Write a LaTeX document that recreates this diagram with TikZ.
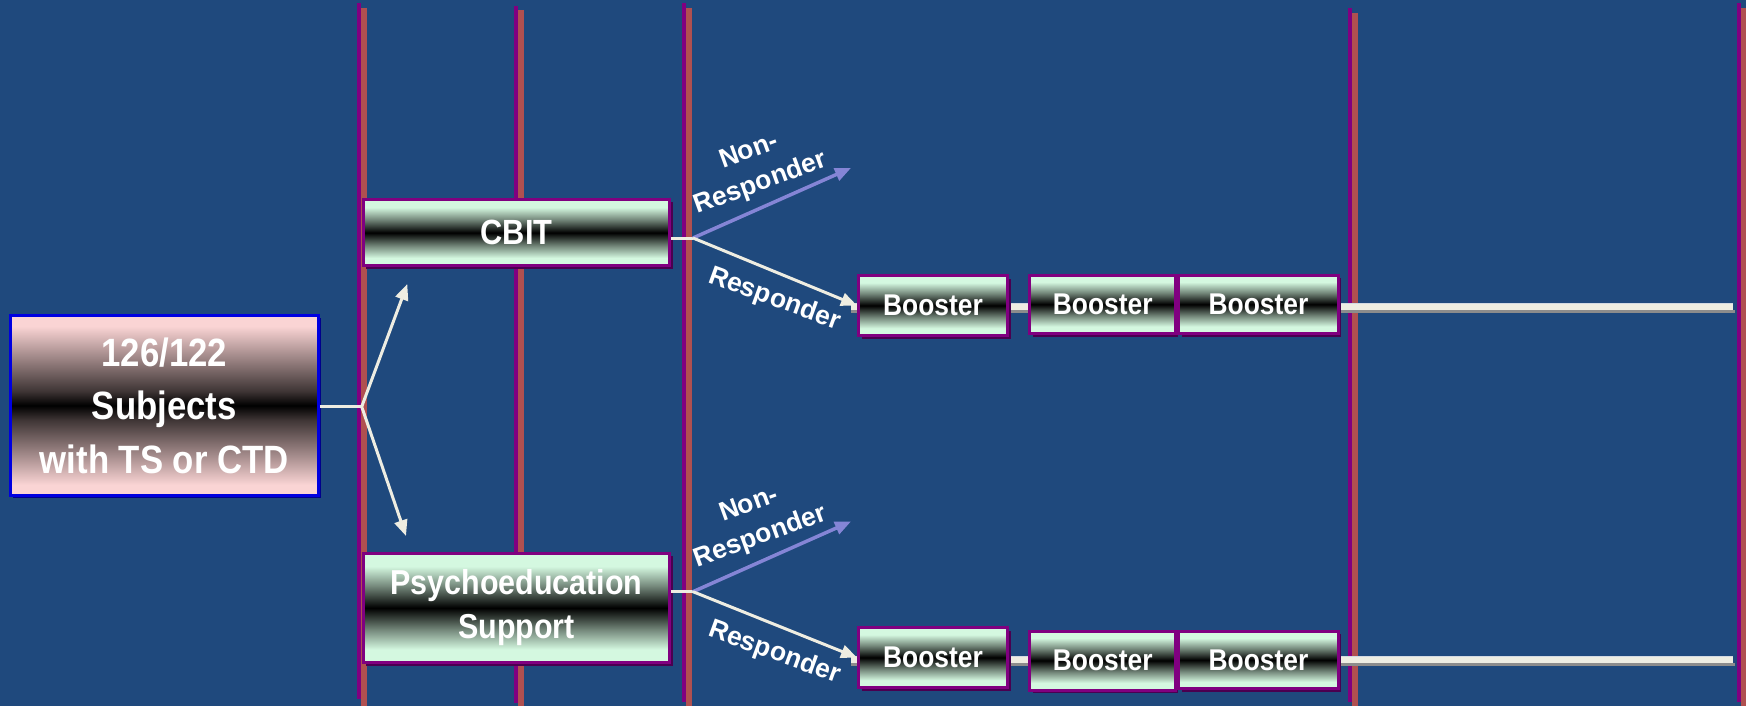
\documentclass[tikz,border=0pt]{standalone}
\usepackage{fontspec}
\setmainfont{Liberation Sans}
\newfontfamily\condf{Liberation Sans}[FakeStretch=0.88]
\usetikzlibrary{arrows.meta,shadows}
\definecolor{bgblue}{HTML}{1F497D}
\definecolor{vpurple}{HTML}{800080}
\definecolor{vsalmon}{HTML}{B05050}
\definecolor{mint}{HTML}{D4F8E0}
\colorlet{mintA}{mint!55!black}
\colorlet{mintB}{mint!22!black}
\definecolor{pinkc}{HTML}{FAD4D4}
\colorlet{pinkA}{pinkc!58!black}
\colorlet{pinkB}{pinkc!25!black}
\definecolor{cream}{HTML}{EEEDE2}
\definecolor{creamedge}{HTML}{D3D9E2}
\definecolor{lav}{HTML}{8585D6}
\definecolor{boxshadow}{HTML}{4A0050}
\definecolor{boxhalo}{HTML}{B088C8}
\definecolor{sborder}{HTML}{0000E0}
\definecolor{sshadow}{HTML}{00008C}
\definecolor{shalo}{HTML}{5A6EE0}
\definecolor{lineshadow}{HTML}{8C8C8C}
\pgfdeclareverticalshading{mintbar}{100bp}{color(0bp)=(mint); color(25bp)=(mint); color(31bp)=(mint); color(40bp)=(mintA); color(46bp)=(mintB); color(50bp)=(black); color(54bp)=(mintB); color(60bp)=(mintA); color(69bp)=(mint); color(75bp)=(mint); color(100bp)=(mint)}
\pgfdeclareverticalshading{pinkbar}{100bp}{color(0bp)=(pinkc); color(25bp)=(pinkc); color(28bp)=(pinkc); color(38bp)=(pinkA); color(46bp)=(pinkB); color(50bp)=(black); color(54bp)=(pinkB); color(62bp)=(pinkA); color(72bp)=(pinkc); color(75bp)=(pinkc); color(100bp)=(pinkc)}
\tikzset{
  tbox/.style={draw=vpurple, line width=3pt, shading=mintbar, inner sep=0pt, text=white,
    general shadow={shadow xshift=-1.5pt, shadow yshift=1.5pt, fill=boxhalo, opacity=1},
    general shadow={shadow xshift=3pt, shadow yshift=-3pt, fill=boxshadow, opacity=1}},
  sbox/.style={draw=sborder, line width=3pt, shading=pinkbar, inner sep=0pt, text=white, align=center,
    general shadow={shadow xshift=-1.5pt, shadow yshift=1.5pt, fill=shalo, opacity=1},
    general shadow={shadow xshift=2.5pt, shadow yshift=-2.5pt, fill=sshadow, opacity=1}},
  boostbox/.style={tbox, font=\condf\bfseries\fontsize{30}{34}\selectfont},
  conn/.style={draw=cream, line width=3pt},
  arr/.style={-{Triangle[length=16pt,width=13pt]}},
  lavarr/.style={draw=lav, line width=3.5pt, -{Triangle[length=16pt,width=13pt]}},
  lbl/.style={text=white, inner sep=0pt, align=center, font=\bfseries\fontsize{26.5}{34}\selectfont},
  pline/.style={draw=vpurple, line width=4pt},
  sline/.style={draw=vsalmon, line width=5.7pt},
  hmain/.style={draw=cream, line width=6.5pt},
  hshadow/.style={draw=lineshadow, line width=3.5pt},
  hedge/.style={draw=creamedge, line width=1.2pt}
}
\begin{document}
\begin{tikzpicture}[x=1pt,y=-1pt]
\useasboundingbox (0,0) rectangle (1746,706);
\fill[bgblue] (0,0) rectangle (1746,706);
% vertical lines
\foreach \px/\sx/\pt/\st/\pb in {359.3/364.2/3/8/699, 515.8/520.8/6/10/703, 684.3/689.2/3/8/702, 1350.3/1355.2/8/13/702, 1739/1743.7/3/8/702}{
  \draw[pline] (\px,\pt) -- (\px,\pb);
  \draw[sline] (\sx,\st) -- (\sx,706);
}
% boxes
\node[sbox, minimum width=308pt, minimum height=180pt, font=\condf\bfseries\fontsize{39.5}{53.5}\selectfont] (subj) at (164.3,405.5) {126/122\\Subjects\\with TS or CTD};
\node[tbox, minimum width=306.4pt, minimum height=66.5pt, font=\condf\bfseries\fontsize{35}{40}\selectfont] (cbit) at (516.5,232.7) {CBIT};
\node[tbox, minimum width=306.4pt, minimum height=109.3pt, align=center, font=\condf\bfseries\fontsize{34.6}{44}\selectfont] (psy) at (516.5,607.9) {Psychoeducation\\Support};
% booster lines (behind boosters)
\coordinate (e1) at (1733,306.7);
\coordinate (e2) at (1733,659.5);
\coordinate (s1) at (851,306.7);
\coordinate (s2) at (851,659.5);
\draw[hshadow] ([yshift=-5pt]s1) -- ([yshift=-5pt,xshift=2pt]e1);
\draw[hmain] (s1) -- (e1);
\draw[hedge] ([yshift=3pt]s1) -- ([yshift=3pt]e1);
\draw[hshadow] ([yshift=-5pt]s2) -- ([yshift=-5pt,xshift=2pt]e2);
\draw[hmain] (s2) -- (e2);
\draw[hedge] ([yshift=3pt]s2) -- ([yshift=3pt]e2);
% boosters top
\node[boostbox, minimum width=149pt, minimum height=60pt] (b1t) at (933,305.5) {Booster};
\node[boostbox, minimum width=145.5pt, minimum height=58.5pt] (b2t) at (1102.7,304.3) {Booster};
\node[boostbox, minimum width=159.6pt, minimum height=58.5pt] (b3t) at (1258.5,304.3) {Booster};
% boosters bottom
\node[boostbox, minimum width=149pt, minimum height=60pt] (b1b) at (933,657.5) {Booster};
\node[boostbox, minimum width=145.5pt, minimum height=59pt] (b2b) at (1102.7,660.5) {Booster};
\node[boostbox, minimum width=159.6pt, minimum height=57.5pt] (b3b) at (1258.5,660) {Booster};
% connectors from subjects
\coordinate (jA) at (361.7,406.7);
\coordinate (tU) at (407.3,284);
\coordinate (tD) at (406,536);
\draw[conn] (jA -| subj.east) -- (jA);
\draw[conn,arr] (jA) -- (tU);
\draw[conn,arr] (jA) -- (tD);
% CBIT branch
\coordinate (jB) at (693,238);
\coordinate (nB) at (851,168);
\draw[conn] (jB -| cbit.east) -- (jB);
\draw[lavarr] (jB) -- (nB);
\draw[conn,arr] (jB) -- (b1t.west);
% Psycho branch
\coordinate (jC) at (693,591.7);
\coordinate (nC) at (851,521.5);
\draw[conn] (jC -| psy.east) -- (jC);
\draw[lavarr] (jC) -- (nC);
\draw[conn,arr] (jC) -- (b1b.west);
% labels
\node[lbl, rotate=20] (nr1) at (755,168) {Non-\\Responder};
\node[lbl, rotate=-20] (r1) at (774.5,299.5) {Responder};
\node[lbl, rotate=20] (nr2) at (755,521.5) {Non-\\Responder};
\node[lbl, rotate=-20] (r2) at (774.5,653) {Responder};
\end{tikzpicture}
\end{document}
